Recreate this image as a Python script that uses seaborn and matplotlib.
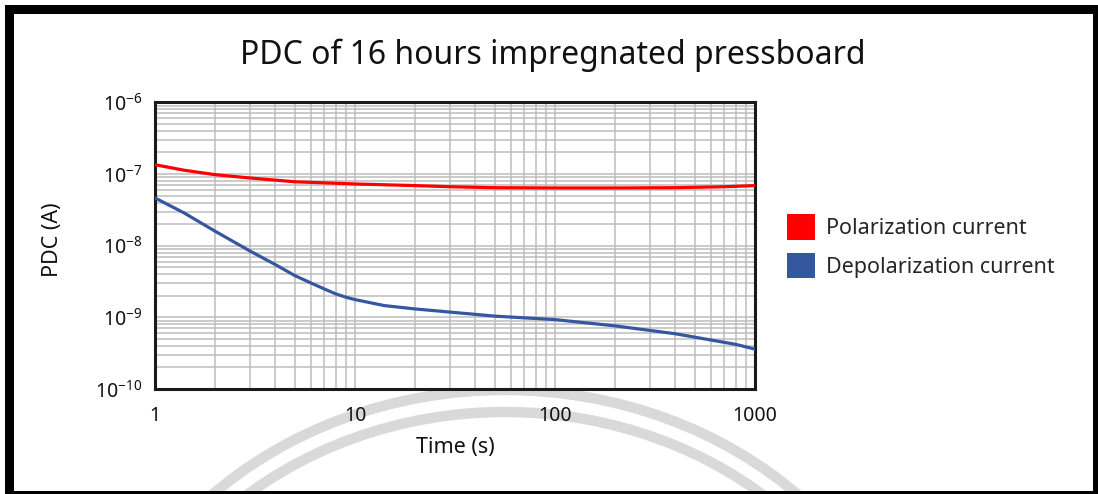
import pandas as pd
import matplotlib
matplotlib.use("Agg")
import matplotlib.pyplot as plt
from matplotlib.patches import Patch, Rectangle, Arc
import seaborn as sns

# values
time_pol = [1, 1.4, 2, 3, 5, 10, 20, 30, 50, 100, 200, 400, 700, 1000]
current_pol = [1.35e-7, 1.13e-7, 9.8e-8, 8.8e-8, 7.8e-8, 7.27e-8, 6.9e-8,
               6.65e-8, 6.45e-8, 6.4e-8, 6.4e-8, 6.45e-8, 6.65e-8, 6.9e-8]

time_depol = [1, 1.4, 2, 3, 4, 5, 6, 7, 8, 9, 10, 14, 20, 50, 100, 200, 400,
              800, 1000]
current_depol = [4.64e-8, 2.86e-8, 1.59e-8, 8.36e-9, 5.44e-9, 3.83e-9,
                 3.03e-9, 2.5e-9, 2.13e-9, 1.91e-9, 1.77e-9, 1.46e-9, 1.31e-9,
                 1.04e-9, 9.3e-10, 7.6e-10, 5.9e-10, 4.2e-10, 3.6e-10]

series_names = ["Polarization current", "Depolarization current"]
series_colors = ["#ff0000", "#3557a0"]

x_ticks = [1, 10, 100, 1000]
x_tick_labels = ["1", "10", "100", "1000"]
y_ticks = [1e-10, 1e-9, 1e-8, 1e-7, 1e-6]
y_tick_labels = [r"$\mathdefault{10^{-10}}$", r"$\mathdefault{10^{-9}}$",
                 r"$\mathdefault{10^{-8}}$", r"$\mathdefault{10^{-7}}$",
                 r"$\mathdefault{10^{-6}}$"]

df = pd.concat([
    pd.DataFrame({"time": time_pol, "current": current_pol, "series": series_names[0]}),
    pd.DataFrame({"time": time_depol, "current": current_depol, "series": series_names[1]}),
])

sns.set_theme(style="white")
plt.rcParams["font.family"] = ["Noto Sans", "DejaVu Sans"]

W, H = 1098, 494
fig = plt.figure(figsize=(W / 100, H / 100), dpi=100)
fig.patch.set_facecolor("white")

# faint watermark arcs behind the plot (pixel coords)
for w, h in [(840, 740), (796, 696)]:
    arc = Arc((505, H - 760), w, h, theta1=0, theta2=180, color="#d9d9d9",
              lw=7.5, transform=None, zorder=0.5)
    fig.add_artist(arc)

# page frame: left, top, right, bottom bars
for x0, y0, bw, bh in [(5, 0, 9, H - 5), (5, H - 14, W - 5, 9),
                       (W - 5, 0, 5, H - 5), (5, 0, W - 5, 3)]:
    fig.add_artist(Rectangle((x0, y0), bw, bh, color="black", lw=0,
                             transform=None, zorder=5))

ax = fig.add_axes([155 / W, 1 - 389 / H, 600 / W, 286.6 / H])
ax.set_zorder(1)
ax.set_facecolor("white")

sns.lineplot(data=df, x="time", y="current", hue="series", palette=series_colors,
             linewidth=2.3, legend=False, ax=ax, zorder=3)

ax.set_xscale("log")
ax.set_yscale("log")
ax.set_xlim(1, 1000)
ax.set_ylim(1e-10, 1e-6)
ax.grid(which="both", color="#bdbdbd", linewidth=1.1)
ax.set_xticks(x_ticks)
ax.set_xticklabels(x_tick_labels)
ax.set_yticks(y_ticks)
ax.set_yticklabels(y_tick_labels)
ax.tick_params(which="both", length=0, labelsize=14, colors="#111111")
ax.tick_params(axis="x", pad=12)
ax.tick_params(axis="y", pad=9)
for s in ax.spines.values():
    s.set_color("#1a1a1a")
    s.set_linewidth(2.2)

ax.set_xlabel("Time (s)", fontsize=15.5, color="#111111")
ax.set_ylabel("PDC (A)", fontsize=15.5, color="#111111")
ax.xaxis.set_label_coords(0.5, -0.168)
ax.yaxis.set_label_coords(-0.153, 0.52)

fig.text(553 / W, 1 - 64 / H, "PDC of 16 hours impregnated pressboard",
         ha="center", va="baseline", fontsize=23, color="#111111")

handles = [Patch(facecolor=c, edgecolor="none") for c in series_colors]
fig.legend(handles, series_names, loc="upper left",
           bbox_to_anchor=(787 / W, 1 - 214 / H), frameon=False, fontsize=15.5,
           handlelength=1.3, handleheight=1.45, handletextpad=0.5,
           labelspacing=0.62, borderpad=0, borderaxespad=0)

fig.savefig("out.png", dpi=100)
